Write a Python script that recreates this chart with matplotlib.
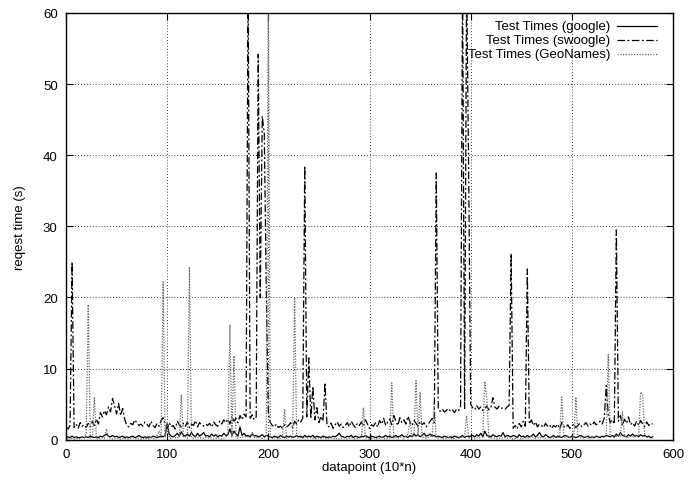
import numpy as np
import matplotlib.pyplot as plt

plt.rcParams['font.family'] = ['Liberation Sans', 'DejaVu Sans']

# datapoint index (every second point)
x = np.arange(0, 582, 2)

# request times in seconds
google = [
    0.3, 0.4, 0.3, 0.5, 0.3, 0.4, 0.3, 0.3, 0.4, 0.3,
    0.4, 0.3, 0.5, 0.4, 0.3, 0.4, 0.3, 0.5, 0.4, 0.6,
    0.8, 0.5, 0.4, 0.6, 0.4, 0.5, 0.3, 0.4, 0.5, 0.3,
    0.4, 0.3, 0.4, 0.5, 0.3, 0.4, 0.6, 0.4, 0.3, 0.4,
    0.3, 0.4, 0.3, 0.5, 0.4, 0.3, 0.4, 0.5, 0.4, 0.6,
    2.2, 0.8, 0.5, 0.4, 0.6, 0.9, 0.5, 1.1, 0.6, 0.5,
    0.8, 0.5, 1.0, 0.6, 0.4, 0.9, 0.5, 0.7, 1.0, 0.5,
    0.6, 0.4, 0.8, 0.5, 0.7, 0.4, 0.6, 0.5, 0.9, 0.6,
    0.7, 1.5, 0.6, 1.2, 0.8, 0.5, 1.8, 0.6, 0.9, 0.5,
    0.6, 0.4, 0.8, 0.5, 0.6, 0.4, 0.5, 0.7, 0.4, 0.6,
    0.5, 0.4, 0.3, 0.5, 0.4, 0.3, 0.6, 0.4, 0.3, 0.5,
    0.4, 0.5, 0.3, 0.4, 0.6, 0.4, 0.5, 0.3, 0.6, 0.4,
    0.5, 0.4, 0.6, 0.3, 0.5, 0.4, 0.3, 0.5, 0.4, 0.3,
    0.4, 0.3, 0.5, 0.4, 0.6, 0.9, 0.5, 0.4, 0.3, 0.5,
    0.4, 0.6, 0.3, 0.5, 0.4, 0.3, 0.5, 0.4, 0.6, 0.4,
    0.3, 0.5, 0.4, 0.3, 0.4, 0.5, 0.3, 0.4, 0.6, 0.4,
    0.5, 0.3, 0.4, 0.6, 0.4, 0.5, 0.7, 0.4, 0.5, 0.3,
    0.6, 0.4, 0.8, 0.5, 0.7, 0.4, 0.6, 0.9, 0.5, 0.6,
    0.8, 0.5, 0.6, 0.4, 0.5, 0.4, 0.3, 0.5, 0.4, 0.3,
    0.4, 0.3, 0.5, 0.4, 0.3, 0.4, 0.6, 0.3, 0.5, 0.4,
    0.5, 0.6, 0.4, 0.7, 0.5, 0.9, 0.4, 1.2, 0.6, 0.5,
    0.4, 0.7, 0.5, 0.4, 0.6, 0.5, 1.0, 0.4, 0.6, 0.5,
    0.4, 0.6, 0.5, 0.3, 0.7, 0.4, 0.5, 0.3, 0.6, 0.4,
    0.5, 0.8, 0.4, 0.6, 1.0, 0.5, 0.4, 0.7, 0.5, 0.3,
    0.4, 0.6, 0.3, 0.5, 0.4, 0.3, 0.5, 0.6, 0.4, 0.3,
    0.5, 0.4, 0.3, 0.4, 0.6, 0.5, 0.3, 0.4, 0.5, 0.3,
    0.4, 0.3, 0.5, 0.4, 0.3, 0.5, 0.4, 0.6, 0.5, 0.4,
    0.6, 0.4, 0.8, 0.5, 1.0, 0.6, 0.5, 0.4, 0.7, 0.5,
    0.8, 0.5, 0.6, 0.4, 0.7, 0.5, 0.6, 0.4, 0.5, 0.3,
    0.4,
]

swoogle = [
    1.8, 1.5, 2.0, 25.0, 1.7, 2.2, 1.6, 2.4, 1.9, 2.1,
    1.7, 2.3, 1.8, 2.6, 2.0, 2.9, 2.2, 3.8, 3.2, 4.1,
    3.5, 4.6, 3.9, 5.8, 4.8, 3.6, 5.1, 3.4, 4.4, 2.9,
    2.0, 1.8, 2.3, 2.1, 2.8, 2.4, 2.0, 2.2, 1.9, 2.5,
    2.2, 1.8, 2.6, 2.0, 1.7, 2.3, 1.9, 2.7, 3.1, 2.2,
    1.6, 2.4, 1.8, 2.0, 1.5, 2.6, 2.1, 1.8, 2.3, 1.9,
    2.5, 1.7, 2.2, 2.0, 2.7, 1.8, 2.4, 2.1, 1.9, 2.2,
    2.0, 2.3, 1.8, 2.5, 2.1, 1.9, 2.6, 2.2, 2.8, 2.4,
    2.9, 2.2, 3.3, 2.6, 3.0, 2.4, 3.4, 2.8, 3.6, 3.2,
    65.0, 3.0, 3.5, 2.8, 3.2, 54.2, 20.0, 45.5, 43.0, 21.0,
    3.6, 2.4, 2.0, 1.8, 2.2, 1.7, 1.9, 1.6, 2.1, 1.8,
    2.0, 2.4, 1.7, 2.6, 2.2, 2.8, 2.5, 3.0, 38.5, 3.2,
    11.5, 3.0, 7.5, 2.8, 4.5, 2.4, 3.3, 2.6, 8.0, 2.0,
    1.8, 2.3, 1.6, 2.1, 2.5, 1.9, 2.2, 1.7, 2.0, 2.4,
    1.8, 2.6, 2.1, 1.7, 2.3, 2.0, 2.5, 1.9, 2.8, 2.2,
    1.6, 2.1, 1.9, 2.4, 1.8, 2.7, 2.2, 3.0, 2.0, 2.5,
    2.9, 2.1, 3.4, 2.6, 2.0, 3.1, 2.4, 2.8, 2.2, 3.3,
    2.5, 2.0, 2.7, 2.3, 1.9, 2.6, 2.1, 2.4, 1.8, 2.2,
    2.6, 3.0, 2.4, 37.5, 4.2, 4.0, 4.3, 3.9, 4.1, 4.4,
    4.0, 4.2, 3.8, 4.3, 4.1, 4.5, 65.0, 4.4, 65.0, 38.0,
    5.0, 4.5, 4.2, 4.8, 4.3, 4.6, 4.1, 4.4, 4.7, 4.2,
    4.5, 5.9, 4.6, 4.3, 4.7, 4.4, 4.5, 4.3, 4.6, 4.8,
    26.2, 1.6, 2.0, 1.5, 2.3, 1.8, 2.6, 1.9, 24.0, 2.2,
    2.8, 2.0, 2.5, 1.8, 2.2, 2.0, 1.7, 2.3, 1.9, 2.1,
    1.6, 2.0, 1.8, 2.2, 1.5, 2.4, 1.9, 1.7, 2.1, 1.6,
    1.9, 2.2, 1.7, 2.0, 2.3, 1.8, 2.1, 2.4, 1.9, 2.2,
    2.0, 2.5, 2.1, 2.3, 2.6, 2.2, 3.0, 7.6, 3.5, 2.4,
    2.8, 2.2, 29.5, 2.6, 3.4, 2.0, 2.9, 2.3, 3.2, 2.1,
    2.4, 1.9, 2.6, 2.0, 2.7, 2.2, 1.8, 2.5, 2.0, 2.3,
    2.2,
]

geonames = [
    0.1, 0.2, 0.1, 0.2, 0.1, 0.2, 0.1, 0.2, 0.3, 0.2,
    1.0, 19.0, 0.3, 0.2, 6.0, 0.2, 0.1, 0.2, 0.3, 0.2,
    1.5, 0.3, 0.2, 0.1, 0.2, 0.3, 0.2, 0.1, 0.2, 0.1,
    0.2, 0.1, 0.2, 0.3, 0.2, 0.1, 0.2, 0.1, 0.2, 0.1,
    0.2, 0.1, 0.3, 0.2, 0.1, 0.5, 1.2, 0.3, 22.2, 0.4,
    2.5, 0.3, 0.2, 0.4, 0.3, 0.2, 0.5, 6.3, 0.3, 0.4,
    0.2, 24.3, 0.3, 0.2, 0.4, 0.3, 0.2, 0.3, 0.2, 0.3,
    0.2, 0.3, 0.2, 0.1, 0.2, 0.3, 0.2, 0.1, 0.2, 0.4,
    0.5, 16.2, 0.4, 11.8, 0.3, 0.2, 0.3, 0.4, 0.3, 0.5,
    0.4, 0.3, 1.0, 0.3, 0.2, 0.4, 0.3, 0.2, 0.3, 0.5,
    65.0, 0.3, 0.2, 0.3, 0.2, 0.1, 0.2, 0.3, 4.3, 0.2,
    0.3, 0.4, 0.2, 20.0, 0.3, 0.2, 0.3, 0.2, 0.4, 0.3,
    0.2, 0.3, 0.2, 0.1, 0.2, 0.3, 0.2, 0.3, 0.2, 0.1,
    0.2, 0.3, 0.2, 0.1, 0.2, 0.1, 0.2, 0.3, 0.2, 0.1,
    0.2, 0.3, 0.2, 0.1, 0.2, 0.3, 0.2, 4.5, 0.3, 0.2,
    0.1, 0.2, 0.3, 0.2, 0.1, 0.2, 0.3, 0.2, 0.1, 0.2,
    0.3, 8.0, 0.2, 0.3, 0.2, 0.4, 0.3, 0.2, 0.5, 0.8,
    2.7, 0.4, 0.6, 8.3, 0.5, 6.7, 0.4, 0.3, 0.2, 0.3,
    0.4, 0.6, 5.0, 0.3, 0.2, 0.3, 0.2, 0.1, 0.2, 0.3,
    0.2, 0.1, 0.2, 0.3, 0.2, 0.3, 0.4, 0.5, 3.4, 0.3,
    0.2, 0.3, 0.2, 0.3, 0.2, 0.3, 0.4, 8.2, 5.7, 0.3,
    0.2, 0.3, 0.2, 0.1, 0.2, 0.3, 0.2, 0.3, 0.2, 0.3,
    0.2, 0.1, 0.2, 0.3, 0.2, 0.1, 0.2, 0.3, 0.2, 0.4,
    0.5, 0.3, 0.2, 0.3, 0.2, 0.4, 0.3, 0.2, 0.3, 0.2,
    0.3, 0.2, 0.4, 0.3, 0.5, 6.0, 0.4, 0.3, 0.5, 0.3,
    0.4, 0.3, 6.0, 0.4, 0.3, 0.2, 0.3, 0.4, 0.2, 0.3,
    0.2, 0.3, 0.4, 0.3, 0.5, 0.4, 0.3, 0.6, 12.0, 0.5,
    0.4, 0.3, 0.5, 0.6, 0.4, 3.9, 0.5, 0.4, 0.3, 0.5,
    0.4, 0.3, 0.6, 0.5, 6.7, 6.4, 0.5, 0.4, 0.3, 0.2,
    0.2,
]

labels = ['Test Times (google)', 'Test Times (swoogle)', 'Test Times (GeoNames)']
styles = [
    dict(color='black', linestyle='-', linewidth=0.9),
    dict(color='black', linestyle=(0, (6, 2, 1.5, 2)), linewidth=0.9),
    dict(color='#666666', linestyle=(0, (1, 1.2)), linewidth=0.9),
]

fig = plt.figure(figsize=(6.88, 4.85), dpi=100)
ax = fig.add_axes([66 / 688, 1 - 440.7 / 485, 607 / 688, 426.7 / 485])

for series, st in zip([google, swoogle, geonames], styles):
    ax.plot(x, series, **st)

ax.set_xlim(0, 600)
ax.set_ylim(0, 60)
ax.set_xticks(range(0, 601, 100))
ax.set_yticks(range(0, 61, 10))
ax.grid(True, color='black', linestyle=(0, (1, 2.5)), linewidth=0.6)
ax.tick_params(direction='in', top=True, right=True, length=5, width=0.8,
               labelsize=9.5, pad=6)
for s in ax.spines.values():
    s.set_linewidth(1.0)

ax.set_xlabel('datapoint (10*n)', fontsize=9.5, labelpad=1)
ax.set_ylabel('reqest time (s)', fontsize=9.5, labelpad=12)

# gnuplot style key: right justified text, sample to the right
key_y = [0.9695, 0.9367, 0.904]
for lab, st, ky in zip(labels, styles, key_y):
    ax.text(0.897, ky, lab, transform=ax.transAxes, ha='right', va='center',
            fontsize=9.5)
    ax.plot([0.907, 0.974], [ky, ky], transform=ax.transAxes, **st)

fig.savefig('out.png', dpi=100)
